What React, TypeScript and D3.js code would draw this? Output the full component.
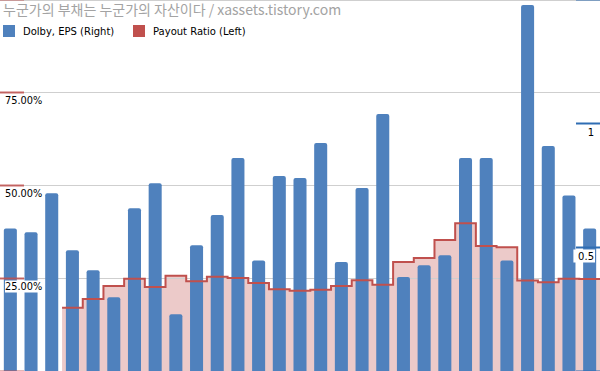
import React, { useEffect, useRef } from 'react';
import * as d3 from 'd3';

// Dolby EPS (right axis) per period
const epsValues = [
  0.575, 0.559, 0.717, 0.487, 0.406, 0.297, 0.656, 0.757, 0.229, 0.507,
  0.629, 0.859, 0.446, 0.786, 0.778, 0.919, 0.44, 0.738, 1.036, 0.379,
  0.426, 0.467, 0.859, 0.859, 0.446, 1.476, 0.907, 0.708, 0.575,
];

// Payout ratio (left axis), no dividend for the first three periods
const payoutValues: (number | null)[] = [
  null, null, null, 0.17, 0.1935, 0.2285, 0.248, 0.226, 0.256, 0.241,
  0.2535, 0.25, 0.2365, 0.22, 0.216, 0.2185, 0.2285, 0.244, 0.232, 0.293,
  0.304, 0.352, 0.397, 0.336, 0.3325, 0.243, 0.2385, 0.248, 0.247,
];

const leftTicks = [0, 0.25, 0.5, 0.75, 1];
const rightTicks = [0, 0.5, 1, 1.5];

const title = '누군가의 부채는 누군가의 자산이다 / xassets.tistory.com';
const seriesNames = ['Dolby, EPS (Right)', 'Payout Ratio (Left)'];

const W = 600;
const H = 371;
const BLUE = '#4f81bd';
const RED = '#c0504d';

export default function App() {
  const svgRef = useRef<SVGSVGElement>(null);

  useEffect(() => {
    const svg = d3.select(svgRef.current);
    svg.selectAll('*').remove();

    const x = d3.scaleBand<number>()
      .domain(epsValues.map((_, i) => i))
      .range([0, W])
      .paddingInner(0.37)
      .paddingOuter(0.185);
    const yL = d3.scaleLinear().domain([0, 1]).range([H, -1]);
    const yR = d3.scaleLinear().domain([0, 1.5]).range([H, -1]);

    const cellStart = (i: number) => (x(i) as number) - (x.step() - x.bandwidth()) / 2;

    // step points: each value holds across its whole cell
    const pts: { x: number; v: number | null }[] = payoutValues.map((v, i) => ({ x: cellStart(i), v }));
    pts.push({ x: W, v: payoutValues[payoutValues.length - 1] });

    const area = d3.area<{ x: number; v: number | null }>()
      .defined(d => d.v != null)
      .x(d => d.x)
      .y0(H)
      .y1(d => yL(d.v as number))
      .curve(d3.curveStepAfter);

    const line = d3.line<{ x: number; v: number | null }>()
      .defined(d => d.v != null)
      .x(d => d.x)
      .y(d => yL(d.v as number))
      .curve(d3.curveStepAfter);

    svg.append('path')
      .attr('d', area(pts))
      .attr('fill', RED)
      .attr('fill-opacity', 0.3);

    // gridlines
    svg.append('g')
      .selectAll('line')
      .data(leftTicks.slice(1))
      .join('line')
      .attr('x1', 0)
      .attr('x2', W)
      .attr('y1', d => Math.max(0.5, Math.round(yL(d)) + 0.5))
      .attr('y2', d => Math.max(0.5, Math.round(yL(d)) + 0.5))
      .attr('stroke', '#cfcfcf')
      .attr('stroke-width', 1);

    // bars
    svg.append('g')
      .selectAll('rect')
      .data(epsValues)
      .join('rect')
      .attr('x', (_, i) => x(i) as number)
      .attr('y', d => yR(d))
      .attr('width', x.bandwidth())
      .attr('height', d => H - yR(d) + 4)
      .attr('rx', 2)
      .attr('fill', BLUE);

    svg.append('path')
      .attr('d', line(pts))
      .attr('fill', 'none')
      .attr('stroke', RED)
      .attr('stroke-width', 2);

    // left axis
    const left = svg.append('g');
    leftTicks.forEach(t => {
      const y = Math.round(yL(t)) + 0.5;
      left.append('line')
        .attr('x1', 0).attr('x2', 24)
        .attr('y1', y).attr('y2', y)
        .attr('stroke', RED).attr('stroke-width', 2).attr('stroke-opacity', 0.85);
      if (t > 0 && t < 1) {
        left.append('rect')
          .attr('x', 5).attr('y', y + 2)
          .attr('width', 37).attr('height', 12)
          .attr('fill', 'white');
        left.append('text')
          .attr('x', 5).attr('y', y + 11.5)
          .attr('font-family', 'DejaVu Sans')
          .attr('font-size', 9.8)
          .attr('fill', '#000')
          .text(d3.format('.2%')(t));
      }
    });

    // right axis
    const right = svg.append('g');
    rightTicks.forEach(t => {
      const y = Math.round(yR(t)) + 0.5;
      right.append('line')
        .attr('x1', 576).attr('x2', W)
        .attr('y1', y).attr('y2', y)
        .attr('stroke', '#2f6db3').attr('stroke-width', 2);
      if (t > 0 && t < 1.5) {
        const label = String(t);
        right.append('rect')
          .attr('x', 594 - label.length * 6.2 - 2).attr('y', y + 2)
          .attr('width', label.length * 6.2 + 3).attr('height', 13)
          .attr('fill', 'white');
        right.append('text')
          .attr('x', 594).attr('y', y + 12)
          .attr('text-anchor', 'end')
          .attr('font-family', 'DejaVu Sans')
          .attr('font-size', 10)
          .attr('fill', '#000')
          .text(label);
      }
    });

    // title
    svg.append('text')
      .attr('x', 3).attr('y', 15)
      .attr('font-family', 'Noto Sans CJK KR')
      .attr('font-size', 14)
      .attr('fill', '#a3a3a3')
      .text(title);

    // legend
    const legend = svg.append('g');
    const legendX = [3, 133];
    [BLUE, RED].forEach((c, i) => {
      legend.append('rect')
        .attr('x', legendX[i]).attr('y', 25)
        .attr('width', 12).attr('height', 12)
        .attr('fill', c);
      legend.append('text')
        .attr('x', legendX[i] + 20).attr('y', 35)
        .attr('font-family', 'DejaVu Sans')
        .attr('font-size', 10)
        .attr('fill', '#000')
        .text(seriesNames[i]);
    });
  }, []);

  return (
    <svg
      ref={svgRef}
      width={W}
      height={H}
      style={{ position: 'fixed', left: 0, top: 0, background: 'white' }}
    />
  );
}
